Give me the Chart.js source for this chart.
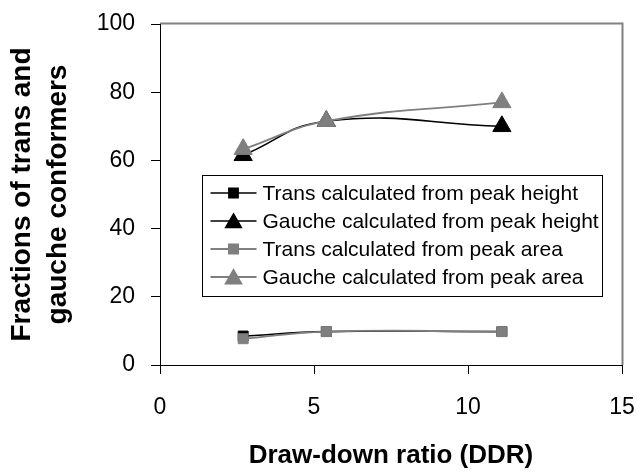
<!DOCTYPE html>
<html>
<head>
<meta charset="utf-8">
<script src="https://cdn.jsdelivr.net/npm/chart.js@4/dist/chart.umd.min.js"></script>
<style>
  html, body { margin: 0; padding: 0; background: #fff; }
  #wrap { width: 637px; height: 472px; position: relative; }
</style>
</head>
<body>
<div id="wrap"><canvas id="c" width="637" height="472"></canvas></div>
<script>
// draw-down ratio of the three samples
const ddr = [2.7, 5.4, 11.1];

// fractions (%)
const transHeight = [8.5, 9.8, 9.8];
const gaucheHeight = [61.5, 71.5, 70];
const transArea = [7.7, 9.8, 9.8];
const gaucheArea = [63.3, 71.5, 77];

const seriesNames = [
  'Trans calculated from peak height',
  'Gauche calculated from peak height',
  'Trans calculated from peak area',
  'Gauche calculated from peak area'
];

const xTicks = [0, 5, 10, 15];
const yTicks = [0, 20, 40, 60, 80, 100];

const FONT = "'Liberation Sans', Arial, sans-serif";
const BLACK = '#000000';
const GREY = '#7f7f7f';

function pts(vals) {
  return vals.map((v, i) => ({ x: ddr[i], y: v }));
}

function makeSet(label, vals, color, style, r, order) {
  return {
    label,
    data: pts(vals),
    borderColor: color,
    backgroundColor: color,
    borderWidth: color === BLACK ? 1.6 : 1.8,
    pointStyle: style,
    pointRadius: r,
    pointHoverRadius: r,
    pointBorderWidth: 1,
    pointBorderColor: color,
    pointBackgroundColor: color,
    tension: 0.45,
    order
  };
}

const datasets = [
  makeSet(seriesNames[0], transHeight, BLACK, 'rect', 7, 1),
  makeSet(seriesNames[1], gaucheHeight, BLACK, 'triangle', 10.5, 1),
  makeSet(seriesNames[2], transArea, GREY, 'rect', 7, 0),
  makeSet(seriesNames[3], gaucheArea, GREY, 'triangle', 10.5, 0)
];

// grey frame on top/right of plot area (drawn before axes)
const frame = {
  id: 'frame',
  beforeDraw(chart) {
    const { ctx, chartArea: a } = chart;
    ctx.save();
    ctx.fillStyle = '#fff';
    ctx.fillRect(0, 0, chart.width, chart.height);
    ctx.strokeStyle = '#808080';
    ctx.lineWidth = 2;
    ctx.beginPath();
    ctx.moveTo(a.left, a.top - 0.5);
    ctx.lineTo(a.right + 0.5, a.top - 0.5);
    ctx.lineTo(a.right + 0.5, a.bottom);
    ctx.stroke();
    ctx.restore();
  }
};

// legend box inside the plot
const boxLegend = {
  id: 'boxLegend',
  afterDatasetsDraw(chart) {
    const { ctx, chartArea: a } = chart;
    const left = a.left + 42.5, top = 175.5, w = 400, h = 121;
    ctx.save();
    ctx.fillStyle = '#fff';
    ctx.fillRect(left, top, w, h);
    ctx.strokeStyle = '#000';
    ctx.lineWidth = 1;
    ctx.strokeRect(left, top, w, h);
    ctx.font = '21px ' + FONT;
    ctx.textBaseline = 'middle';
    ctx.textAlign = 'left';
    datasets.forEach((ds, i) => {
      const y = 193 + i * 28;
      ctx.strokeStyle = ds.borderColor;
      ctx.lineWidth = ds.borderWidth;
      ctx.beginPath();
      ctx.moveTo(left + 8, y);
      ctx.lineTo(left + 54, y);
      ctx.stroke();
      ctx.fillStyle = ds.backgroundColor;
      Chart.helpers.drawPoint(ctx, {
        pointStyle: ds.pointStyle,
        radius: ds.pointStyle === 'rect' ? 6.5 : 9,
        rotation: 0,
        borderWidth: 1
      }, left + 31, ds.pointStyle === 'rect' ? y : y + 2);
      ctx.fillStyle = '#000';
      ctx.fillText(ds.label, left + 60, y + 1);
    });
    ctx.restore();
  }
};

new Chart(document.getElementById('c'), {
  type: 'line',
  data: { datasets },
  plugins: [frame, boxLegend],
  options: {
    responsive: false,
    animation: false,
    events: [],
    layout: { padding: { top: 24, right: 15, left: 0, bottom: 0 } },
    plugins: {
      legend: { display: false },
      tooltip: { enabled: false }
    },
    scales: {
      x: {
        type: 'linear',
        min: 0,
        max: 15,
        afterFit(scale) {
          scale.height = 107;
          scale.paddingLeft = 0;
          scale.paddingRight = 0;
        },
        afterBuildTicks(scale) { scale.ticks = xTicks.map(v => ({ value: v })); },
        border: { color: BLACK, width: 1 },
        grid: { drawOnChartArea: false, drawTicks: true, tickLength: 9, color: BLACK },
        ticks: {
          color: BLACK,
          padding: 20,
          maxRotation: 0,
          font: { family: FONT, size: 23 }
        },
        title: {
          display: true,
          text: 'Draw-down ratio (DDR)',
          color: BLACK,
          font: { family: FONT, size: 26, weight: 'bold' },
          padding: { top: 0, bottom: 1 }
        }
      },
      y: {
        min: 0,
        max: 100,
        afterFit(scale) {
          scale.width = 160;
          scale.paddingTop = 0;
          scale.paddingBottom = 0;
        },
        afterBuildTicks(scale) { scale.ticks = yTicks.map(v => ({ value: v })); },
        border: { color: BLACK, width: 1 },
        grid: { drawOnChartArea: false, drawTicks: true, tickLength: 9, color: BLACK },
        ticks: {
          color: BLACK,
          padding: 16,
          font: { family: FONT, size: 23 }
        },
        title: {
          display: true,
          text: ['Fractions of trans and', 'gauche conformers'],
          color: BLACK,
          font: { family: FONT, size: 28, weight: 'bold', lineHeight: 1.27 },
          padding: { top: 5, bottom: 0 }
        }
      }
    }
  }
});
</script>
</body>
</html>
